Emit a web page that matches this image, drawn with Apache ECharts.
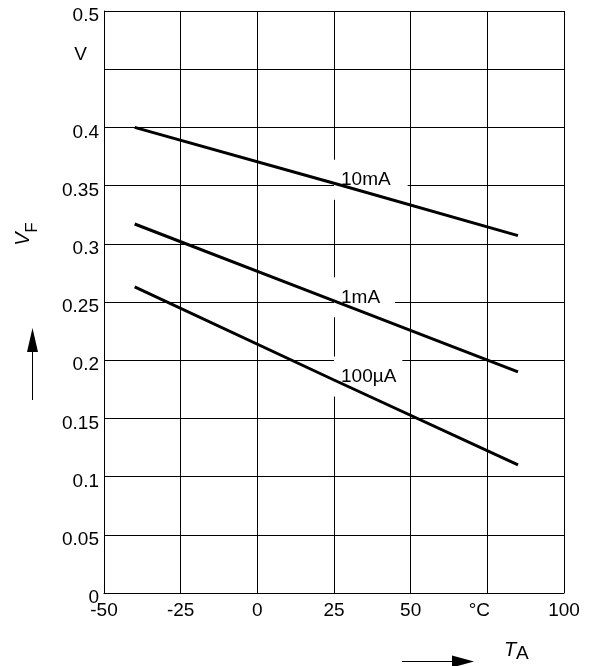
<!DOCTYPE html>
<html>
<head>
<meta charset="utf-8">
<script src="https://cdn.jsdelivr.net/npm/echarts@6/dist/echarts.min.js"></script>
<style>
html,body{margin:0;padding:0;background:#fff;}
#chart{width:592px;height:666px;}
</style>
</head>
<body>
<div id="chart"></div>
<script>
// ---- data ----
var curveNames = ['10mA', '1mA', '100µA'];
var tempPoints = [-40, 25, 85];
var vf10mA = [0.400, 0.352, 0.307];
var vf1mA = [0.317, 0.251, 0.190];
var vf100uA = [0.263, 0.183, 0.110];
var labelTemp = 25;
var xTickLabels = { '-50': '-50', '-25': '-25', '0': '0', '25': '25', '50': '50', '75': '°C', '100': '100' };
var yTickLabels = { '0': '0', '0.05': '0.05', '0.1': '0.1', '0.15': '0.15', '0.2': '0.2', '0.25': '0.25', '0.3': '0.3', '0.35': '0.35', '0.4': '0.4', '0.45': 'V', '0.5': '0.5' };

var FONT = '"Liberation Sans", Arial, sans-serif';
var curves = [vf10mA, vf1mA, vf100uA];
var labelIdx = tempPoints.indexOf(labelTemp);

var series = [];
curves.forEach(function (vals, i) {
  series.push({
    type: 'line',
    name: curveNames[i],
    data: tempPoints.map(function (t, k) { return [t, vals[k]]; }),
    symbol: 'none',
    silent: true,
    z: 3,
    lineStyle: { color: '#000', width: 3 }
  });
});
var labelPads = [[10, 17, 11, 7], [10, 15, 11, 7], [10, 6, 11, 7]];
series.push({
  type: 'scatter',
  z: 1,
  silent: true,
  symbolSize: 0,
  itemStyle: { opacity: 1, color: '#000' },
  data: curves.map(function (vals, i) {
    return {
      value: [labelTemp, vals[labelIdx]],
      label: {
        show: true,
        formatter: curveNames[i],
        position: 'right',
        distance: 0,
        offset: [0, -3.5],
        backgroundColor: '#fff',
        padding: labelPads[i],
        color: '#000',
        opacity: 1,
        fontFamily: FONT,
        fontSize: 19
      }
    };
  })
});

function keyOf(v) { return String(Math.round(v * 1000) / 1000); }

var chart = echarts.init(document.getElementById('chart'), null, { renderer: 'canvas' });
chart.setOption({
  animation: false,
  backgroundColor: '#fff',
  grid: { left: 104, right: 28, top: 11, bottom: 73, containLabel: false },
  xAxis: {
    type: 'value',
    min: -50, max: 100, interval: 25,
    axisLine: { show: true, onZero: false, lineStyle: { color: '#000', width: 1 } },
    axisTick: { show: false },
    splitLine: { show: true, lineStyle: { color: '#000', width: 1 } },
    axisLabel: {
      margin: 8,
      color: '#000', fontFamily: FONT, fontSize: 19,
      formatter: function (v) {
        var s = xTickLabels[keyOf(v)];
        if (s === '°C') return '{c|°C}';
        return '{n|' + s + '}';
      },
      rich: {
        n: { color: '#000', fontFamily: FONT, fontSize: 19 },
        c: { color: '#000', fontFamily: FONT, fontSize: 19, padding: [0, 16, 0, 0] }
      }
    }
  },
  yAxis: {
    type: 'value',
    min: 0, max: 0.5, interval: 0.05,
    axisLine: { show: true, onZero: false, lineStyle: { color: '#000', width: 1 } },
    axisTick: { show: false },
    splitLine: { show: true, lineStyle: { color: '#000', width: 1 } },
    axisLabel: {
      margin: 5,
      color: '#000', fontFamily: FONT, fontSize: 19,
      formatter: function (v) {
        var s = yTickLabels[keyOf(v)];
        if (s === 'V') return '{u|V}';
        return '{n|' + s + '}';
      },
      rich: {
        n: { color: '#000', fontFamily: FONT, fontSize: 19, padding: [10, 0, 0, 0] },
        u: { color: '#000', fontFamily: FONT, fontSize: 19, padding: [0, 12, 28, 0] }
      }
    }
  },
  graphic: [
    // x axis title + arrow
    { type: 'line', shape: { x1: 402, y1: 661.5, x2: 455, y2: 661.5 }, style: { stroke: '#000', lineWidth: 1 } },
    { type: 'polygon', shape: { points: [[452, 655.5], [474, 661.5], [452, 667.5]] }, style: { fill: '#000' } },
    { type: 'text', x: 504, y: 650, style: { text: 'T', font: 'italic 20px ' + FONT, fill: '#000', textVerticalAlign: 'middle', textAlign: 'left' } },
    { type: 'text', x: 516, y: 654, style: { text: 'A', font: '19px ' + FONT, fill: '#000', textVerticalAlign: 'middle', textAlign: 'left' } },
    // y axis title + arrow
    { type: 'line', shape: { x1: 32.5, y1: 350, x2: 32.5, y2: 400 }, style: { stroke: '#000', lineWidth: 1 } },
    { type: 'polygon', shape: { points: [[27, 352], [32.5, 328], [38, 352]] }, style: { fill: '#000' } },
    { type: 'text', x: 23, y: 239, rotation: Math.PI / 2, style: { text: 'V', font: 'italic 20px ' + FONT, fill: '#000', textVerticalAlign: 'middle', textAlign: 'center' } },
    { type: 'text', x: 32, y: 227.5, rotation: Math.PI / 2, style: { text: 'F', font: '17px ' + FONT, fill: '#000', textVerticalAlign: 'middle', textAlign: 'center' } }
  ],
  series: series
});
</script>
</body>
</html>
